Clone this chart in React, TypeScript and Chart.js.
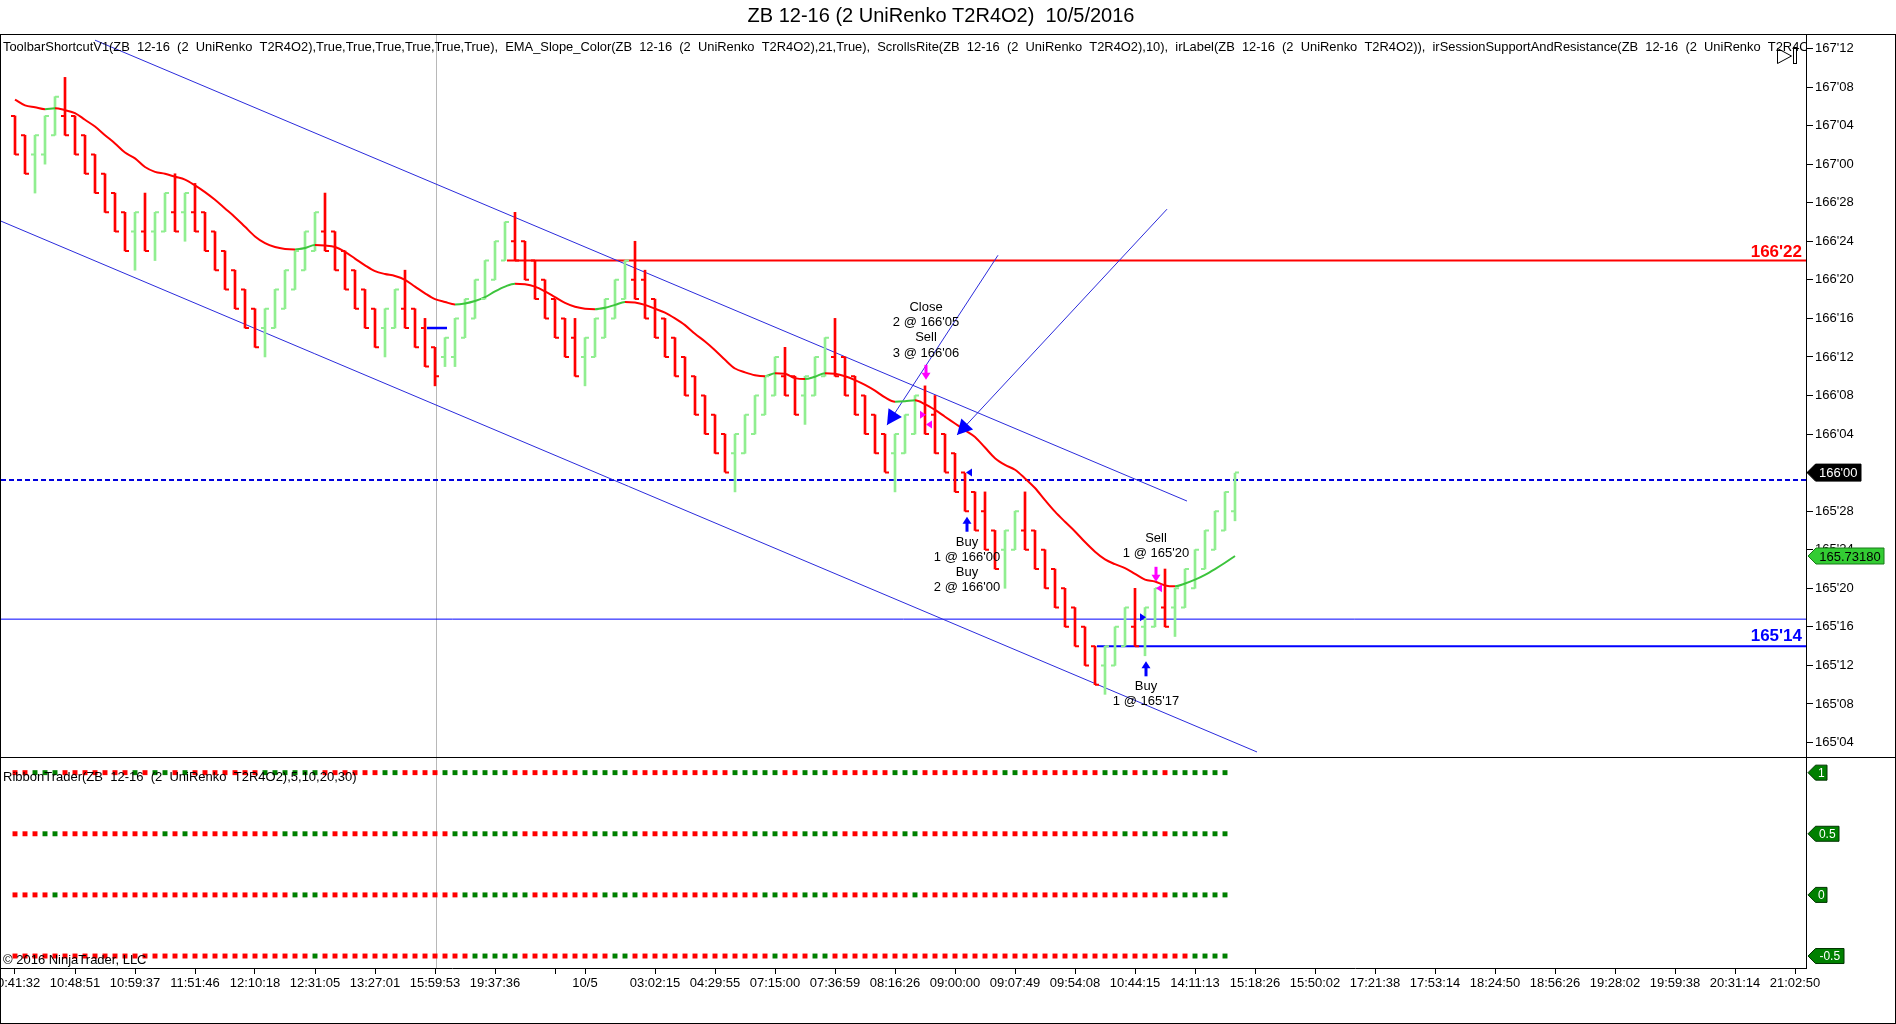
import React, { useEffect, useRef } from "react";
import { Chart, registerables } from "chart.js";

Chart.register(...registerables);

const FONT = "'Liberation Sans', Arial, Helvetica, sans-serif";

const TITLE = "ZB 12-16 (2 UniRenko T2R4O2)  10/5/2016";
const PANEL_LABEL =
  "ToolbarShortcutV1(ZB  12-16  (2  UniRenko  T2R4O2),True,True,True,True,True,True),  EMA_Slope_Color(ZB  12-16  (2  UniRenko  T2R4O2),21,True),  ScrollsRite(ZB  12-16  (2  UniRenko  T2R4O2),10),  irLabel(ZB  12-16  (2  UniRenko  T2R4O2)),  irSessionSupportAndResistance(ZB  12-16  (2  UniRenko  T2R4O2))";
const RIBBON_LABEL = "RibbonTrader(ZB  12-16  (2  UniRenko  T2R4O2),5,10,20,30)";
const COPYRIGHT = "\u00A9 2016 NinjaTrader, LLC";

// Prices are stored in 32nds relative to 166'00
const BASE_32NDS = 166 * 32;

const OPEN = [
  37, 35, 33, 33, 35, 37, 37, 35, 33, 31,
  29, 27, 25, 25, 25, 25, 27, 27, 27, 27,
  25, 23, 21, 19, 17, 15, 15, 17, 19, 21,
  23, 25, 25, 23, 21, 19, 17, 15, 15, 17,
  17, 15, 13, 12, 12, 14, 16, 18, 20, 22,
  24, 24, 22, 20, 18, 16, 14, 12, 12, 14,
  16, 18, 20, 20, 18, 16, 14, 12, 10, 8,
  6, 4, 2, 2, 4, 6, 8, 10, 10, 8,
  8, 10, 12, 12, 10, 8, 6, 4, 2, 2,
  4, 6, 6, 4, 2, 0, -2, -4, -6, -8,
  -8, -6, -6, -8, -10, -12, -14, -16, -18, -20,
  -20, -18, -16, -16, -16, -14, -14, -14, -12, -10,
  -8, -6, -4,
];
const HIGH = [
  37, 35, 35, 37, 39, 41, 37, 35, 33, 31,
  29, 27, 27, 29, 27, 29, 31, 29, 30, 27,
  25, 23, 21, 19, 17, 17, 19, 21, 23, 25,
  27, 29, 25, 23, 21, 19, 17, 17, 19, 21,
  17, 16, 13, 14, 16, 18, 20, 22, 24, 26,
  27, 24, 22, 20, 18, 16, 16, 14, 16, 18,
  20, 22, 24, 21, 18, 16, 14, 12, 10, 8,
  6, 4, 4, 6, 8, 10, 12, 13, 10, 10,
  12, 14, 16, 12, 10, 8, 6, 4, 4, 6,
  8, 9, 8, 4, 2, 0, -2, -2, -6, -6,
  -4, -2, -6, -8, -10, -12, -14, -16, -18, -18,
  -16, -14, -12, -14, -12, -10, -12, -10, -8, -6,
  -4, -2, 0,
];
const LOW = [
  33, 31, 29, 32, 35, 35, 33, 31, 29, 27,
  25, 23, 21, 23, 22, 25, 25, 24, 25, 23,
  21, 19, 17, 15, 13, 12, 15, 17, 19, 21,
  23, 23, 21, 19, 17, 15, 13, 12, 15, 15,
  13, 11, 9, 11, 11, 14, 16, 18, 20, 22,
  22, 20, 18, 16, 14, 12, 10, 9, 12, 14,
  16, 18, 18, 16, 14, 12, 10, 8, 6, 4,
  2, 0, -2, 2, 4, 6, 8, 8, 6, 5,
  8, 10, 10, 8, 6, 4, 2, 0, -2, 2,
  4, 4, 2, 0, -2, -4, -6, -8, -10, -12,
  -8, -8, -10, -12, -14, -16, -18, -20, -22, -23,
  -20, -18, -18, -19, -16, -16, -17, -14, -12, -10,
  -8, -6, -5,
];
const CLOSE = [
  33, 31, 35, 37, 39, 35, 33, 31, 29, 27,
  25, 23, 27, 23, 27, 29, 25, 29, 25, 23,
  21, 19, 17, 15, 13, 17, 19, 21, 23, 25,
  27, 23, 21, 19, 17, 15, 13, 17, 19, 15,
  13, 11, 10, 14, 16, 18, 20, 22, 24, 26,
  22, 20, 18, 16, 14, 12, 10, 14, 16, 18,
  20, 22, 18, 16, 14, 12, 10, 8, 6, 4,
  2, 0, 4, 6, 8, 10, 12, 8, 6, 10,
  12, 14, 10, 8, 6, 4, 2, 0, 4, 6,
  8, 4, 2, 0, -2, -4, -6, -8, -10, -6,
  -4, -8, -10, -12, -14, -16, -18, -20, -22, -18,
  -16, -14, -18, -14, -12, -16, -12, -10, -8, -6,
  -4, -2, 0,
];
const EMA21 = [
  38.7, 38.1, 37.9, 37.7, 37.8, 37.6, 37.3, 36.6, 35.9, 35.0,
  34.15, 33.2, 32.6, 31.7, 31.2, 31.0, 30.7, 30.4, 29.8, 29.1,
  28.3, 27.4, 26.5, 25.5, 24.5, 23.8, 23.4, 23.2, 23.15, 23.3,
  23.6, 23.55, 23.4, 22.9, 22.2, 21.5, 20.9, 20.6, 20.4, 20.0,
  19.3, 18.6, 18.0, 17.7, 17.45, 17.55, 17.8, 18.2, 18.8, 19.3,
  19.6, 19.55, 19.3, 18.8, 18.2, 17.6, 17.2, 17.0, 16.95, 17.1,
  17.4, 17.7, 17.65, 17.4, 17.0, 16.6, 16.0, 15.3, 14.4, 13.6,
  12.7, 11.7, 10.8, 10.4, 10.1, 10.0, 10.3, 10.25, 9.8, 9.7,
  9.95, 10.3, 10.25, 10.0, 9.6, 9.1, 8.5, 7.8, 7.35, 7.4,
  7.5, 7.1, 6.5, 5.8, 5.1, 4.4, 3.7, 2.6, 1.5, 0.8,
  0.3, -0.6, -1.6, -2.85, -4.05, -5.1, -6.1, -7.2, -8.2, -9.0,
  -9.5, -9.9, -10.5, -11.1, -11.3, -11.7, -11.8, -11.5, -11.1, -10.6,
  -10.0, -9.35, -8.65,
];
const EMA_LAST_LABEL = "165.73180";

// RibbonTrader rows (G = green, R = red), one per bar
const RIBBON_ROW_1 =
  "RRGGGRRRRR" + "RRGRGGRGRR" + "RRRRRGGGGG" + "GRRRRRRGGR" + "RRRGGGGGGG" + "RRRRRRRGGG" +
  "GGRRRRRRRR" + "RRGGGGGRRG" + "GGRRRRRRGG" + "GRRRRRRRRG" + "GRRRRRRRRG" + "GGRGGRGGGG" + "GG";
const RIBBON_ROW_2 =
  "RRRGGRRRRR" + "RRRRRGRGRR" + "RRRRRRRGGG" + "GGRRRRRRGR" + "RRRRGGGGGG" + "GRRRRRRRGG" +
  "GGGRRRRRRR" + "RRRRGGGRRG" + "GGGRRRRRRG" + "GRRRRRRRRR" + "RRRRRRRRRR" + "RGRGGRGGGG" + "GG";
const RIBBON_ROW_3 =
  "RRRRGRRRRR" + "RRRRRRRRRR" + "RRRRRRRRGG" + "GRRRRRRRRR" + "RRRRRGGGGG" + "GGRRRRRRRG" +
  "GGGRRRRRRR" + "RRRRRGGRRG" + "GGRRRRRRRR" + "GRRRRRRRRR" + "RRRRRRRRRR" + "RRRRRRGGGG" + "GG";
const RIBBON_ROW_4 =
  "RRRRRRRRRR" + "RRRRRRRRRR" + "RRRRRRRRRR" + "GRRRRRRRRR" + "RRRRRRGGGG" + "GRRRRRRRRR" +
  "GGRRRRRRRR" + "RRRRRRGRRR" + "GGRRRRRRRR" + "RRRRRRRRRR" + "RRRRRRRRRR" + "RRRRRRRRGG" + "GG";
const RIBBON_ROWS = [RIBBON_ROW_1, RIBBON_ROW_2, RIBBON_ROW_3, RIBBON_ROW_4];
const RIBBON_LEVELS = [1, 0.5, 0, -0.5];
const RIBBON_TAGS = ["1", "0.5", "0", "-0.5"];

const X_TICK_BARS = [0, 6, 12, 18, 24, 30, 36, 42, 48, 54, 57, 64, 70, 76, 82, 88, 94, 100, 106, 112, 118, 124, 130, 136, 142, 148, 154, 160, 166, 172, 178];
const X_TICK_LABELS = [
  "10:41:32", "10:48:51", "10:59:37", "11:51:46", "12:10:18", "12:31:05", "13:27:01", "15:59:53", "19:37:36", "",
  "10/5", "03:02:15", "04:29:55", "07:15:00", "07:36:59", "08:16:26", "09:00:00", "09:07:49", "09:54:08", "10:44:15",
  "14:11:13", "15:18:26", "15:50:02", "17:21:38", "17:53:14", "18:24:50", "18:56:26", "19:28:02", "19:59:38", "20:31:14", "21:02:50",
];
const Y_TICKS = [-28, -24, -20, -16, -12, -8, -4, 0, 4, 8, 12, 16, 20, 24, 28, 32, 36, 40, 44];

// drawings: [bar index, price in 32nds]
const CHANNEL_UPPER = [[8.0, 44.86], [117.2, -2.95]];
const CHANNEL_LOWER = [[-1.5, 26.13], [124.2, -28.98]];
const ARROW_LINE_1 = [[98.3, 22.55], [87.2, 4.93]];
const ARROW_LINE_2 = [[115.2, 27.33], [94.2, 3.9]];
const RESISTANCE = { from: 49.2, level: 22, label: "166'22" };
const SUPPORT = { from: 108.2, level: -18, label: "165'14" };
const THIN_LEVEL = -15.2;
const DASHED_LEVEL = -0.77;
const LAST_PRICE = 0;
const SESSION_BREAK_BAR = 42.1;
const BLUE_DASH = [[41.2, 15], [43.2, 15]];

const SELL_ARROWS = [[91.1, 10.35], [114.1, -10.6]];
const BUY_ARROWS = [[95.2, -5.3], [113.1, -20.3]];
const EXEC_MARKS = [
  { bar: 90.8, price: 6, dir: "right", color: "#ff00ff" },
  { bar: 91.4, price: 5, dir: "left", color: "#ff00ff" },
  { bar: 95.4, price: 0, dir: "left", color: "#0000ff" },
  { bar: 114.4, price: -12, dir: "left", color: "#ff00ff" },
  { bar: 112.8, price: -15, dir: "right", color: "#0000ff" },
];
const TRADE_TEXTS = [
  { bar: 91.1, price: 17.14, lines: ["Close", "2 @ 166'05", "Sell", "3 @ 166'06"] },
  { bar: 95.2, price: -7.23, lines: ["Buy", "1 @ 166'00", "Buy", "2 @ 166'00"] },
  { bar: 114.1, price: -6.82, lines: ["Sell", "1 @ 165'20"] },
  { bar: 113.1, price: -22.2, lines: ["Buy", "1 @ 165'17"] },
];

const BAR_UP = "#90ee90";
const BAR_DOWN = "#ff0000";
const EMA_UP = "#3cc43c";
const EMA_DOWN = "#ff0000";
const LINE_BLUE = "#2b2bdc";
const RIB_G = "#008000";
const RIB_R = "#ff0000";

const fmt32 = (v: number) => {
  const n = Math.round(BASE_32NDS + v);
  const whole = Math.floor(n / 32);
  const frac = n - whole * 32;
  return `${whole}'${frac < 10 ? "0" : ""}${frac}`;
};

const lineDs = (pts: number[][], color: string, width: number, dash: number[] = []) => ({
  type: "line",
  data: pts.map((p) => ({ x: p[0], y: p[1] })),
  borderColor: color,
  borderWidth: width,
  borderDash: dash,
  pointRadius: 0,
  tension: 0,
  yAxisID: "y",
  xAxisID: "x",
});

function tagLeft(ctx: CanvasRenderingContext2D, xTip: number, yc: number, w: number, h: number, fill: string, stroke: string, text: string, textColor: string, font: string) {
  ctx.save();
  ctx.beginPath();
  ctx.moveTo(xTip, yc);
  ctx.lineTo(xTip + h / 2, yc - h / 2);
  ctx.lineTo(xTip + w, yc - h / 2);
  ctx.lineTo(xTip + w, yc + h / 2);
  ctx.lineTo(xTip + h / 2, yc + h / 2);
  ctx.closePath();
  ctx.fillStyle = fill;
  ctx.fill();
  ctx.strokeStyle = stroke;
  ctx.lineWidth = 1;
  ctx.stroke();
  ctx.fillStyle = textColor;
  ctx.font = font;
  ctx.textAlign = "center";
  ctx.textBaseline = "middle";
  ctx.fillText(text, xTip + h / 2 + (w - h / 2) / 2, yc + 1);
  ctx.restore();
}

const overlayPlugin = {
  id: "overlay",
  beforeDraw(chart: any) {
    const ctx = chart.ctx;
    ctx.save();
    ctx.fillStyle = "#ffffff";
    ctx.fillRect(0, 0, chart.width, chart.height);
    ctx.restore();
  },
  beforeDatasetsDraw(chart: any) {
    const ctx = chart.ctx;
    const a = chart.chartArea;
    const x = Math.round(chart.scales.x.getPixelForValue(SESSION_BREAK_BAR)) + 0.5;
    ctx.save();
    ctx.strokeStyle = "#b8b8b8";
    ctx.lineWidth = 1;
    ctx.beginPath();
    ctx.moveTo(x, a.top);
    ctx.lineTo(x, a.bottom);
    ctx.stroke();
    ctx.restore();
  },
  afterDatasetsDraw(chart: any) {
    const ctx = chart.ctx;
    const sx = (v: number) => chart.scales.x.getPixelForValue(v);
    const sy = (v: number) => chart.scales.y.getPixelForValue(v);
    ctx.save();
    // open / close ticks of the bars
    ctx.lineWidth = 2;
    for (let i = 0; i < OPEN.length; i++) {
      const x = sx(i);
      ctx.strokeStyle = CLOSE[i] >= OPEN[i] ? BAR_UP : BAR_DOWN;
      ctx.beginPath();
      ctx.moveTo(x - 4, sy(OPEN[i]));
      ctx.lineTo(x, sy(OPEN[i]));
      ctx.moveTo(x, sy(CLOSE[i]));
      ctx.lineTo(x + 4, sy(CLOSE[i]));
      ctx.stroke();
    }
    // short blue dash
    ctx.strokeStyle = "#0000ff";
    ctx.lineWidth = 2.5;
    ctx.beginPath();
    ctx.moveTo(sx(BLUE_DASH[0][0]), sy(BLUE_DASH[0][1]));
    ctx.lineTo(sx(BLUE_DASH[1][0]), sy(BLUE_DASH[1][1]));
    ctx.stroke();

    // arrow heads at end of the drawn arrow lines
    for (const ln of [ARROW_LINE_1, ARROW_LINE_2]) {
      const x0 = sx(ln[0][0]), y0 = sy(ln[0][1]);
      const x1 = sx(ln[1][0]), y1 = sy(ln[1][1]);
      const ang = Math.atan2(y1 - y0, x1 - x0);
      const L = 15, W = 8;
      const bx = x1 - L * Math.cos(ang), by = y1 - L * Math.sin(ang);
      ctx.fillStyle = "#0000ff";
      ctx.beginPath();
      ctx.moveTo(x1, y1);
      ctx.lineTo(bx + W * Math.sin(ang), by - W * Math.cos(ang));
      ctx.lineTo(bx - W * Math.sin(ang), by + W * Math.cos(ang));
      ctx.closePath();
      ctx.fill();
    }

    // sell arrows (magenta, pointing down)
    for (const [b, p] of SELL_ARROWS) {
      const x = sx(b), y = sy(p);
      ctx.fillStyle = "#ff00ff";
      ctx.fillRect(x - 1.5, y - 8, 3, 9);
      ctx.beginPath();
      ctx.moveTo(x - 4.5, y);
      ctx.lineTo(x + 4.5, y);
      ctx.lineTo(x, y + 7);
      ctx.closePath();
      ctx.fill();
    }
    // buy arrows (blue, pointing up)
    for (const [b, p] of BUY_ARROWS) {
      const x = sx(b), y = sy(p);
      ctx.fillStyle = "#0000ff";
      ctx.fillRect(x - 1.5, y - 1, 3, 9);
      ctx.beginPath();
      ctx.moveTo(x - 4.5, y);
      ctx.lineTo(x + 4.5, y);
      ctx.lineTo(x, y - 7);
      ctx.closePath();
      ctx.fill();
    }
    // execution markers
    for (const m of EXEC_MARKS) {
      const x = sx(m.bar), y = sy(m.price);
      ctx.fillStyle = m.color;
      ctx.beginPath();
      if (m.dir === "left") {
        ctx.moveTo(x - 3, y);
        ctx.lineTo(x + 3, y - 4);
        ctx.lineTo(x + 3, y + 4);
      } else {
        ctx.moveTo(x + 3, y);
        ctx.lineTo(x - 3, y - 4);
        ctx.lineTo(x - 3, y + 4);
      }
      ctx.closePath();
      ctx.fill();
    }
    // trade texts
    ctx.fillStyle = "#000000";
    ctx.font = `13px ${FONT}`;
    ctx.textAlign = "center";
    ctx.textBaseline = "middle";
    for (const t of TRADE_TEXTS) {
      const x = sx(t.bar), y = sy(t.price);
      t.lines.forEach((s, k) => ctx.fillText(s, x, y + k * 15.2));
    }

    // level labels
    const a = chart.chartArea;
    ctx.font = `bold 17px ${FONT}`;
    ctx.textAlign = "right";
    ctx.textBaseline = "alphabetic";
    ctx.fillStyle = "#ff0000";
    ctx.fillText(RESISTANCE.label, a.right - 4, sy(RESISTANCE.level) - 4);
    ctx.fillStyle = "#0000ff";
    ctx.fillText(SUPPORT.label, a.right - 4, sy(SUPPORT.level) - 5);
    ctx.restore();
  },
  afterDraw(chart: any) {
    const ctx = chart.ctx;
    const a = chart.chartArea;
    const W = chart.width, H = chart.height;
    const sepY = Math.round(chart.scales.y.bottom) + 0.5;
    ctx.save();
    // frame
    ctx.strokeStyle = "#000000";
    ctx.lineWidth = 1;
    ctx.beginPath();
    ctx.moveTo(0, 34.5); ctx.lineTo(W, 34.5);
    ctx.moveTo(0.5, 34); ctx.lineTo(0.5, H);
    ctx.moveTo(W - 0.5, 34); ctx.lineTo(W - 0.5, H);
    ctx.moveTo(0, H - 0.5); ctx.lineTo(W, H - 0.5);
    ctx.moveTo(0, sepY); ctx.lineTo(W, sepY);
    ctx.stroke();

    // title
    ctx.fillStyle = "#000000";
    ctx.font = `20px ${FONT}`;
    ctx.textAlign = "center";
    ctx.textBaseline = "middle";
    ctx.fillText(TITLE, 941, 16);

    // indicator labels
    ctx.save();
    ctx.beginPath();
    ctx.rect(a.left, a.top, a.right - a.left, a.bottom - a.top);
    ctx.clip();
    ctx.font = `12.9px ${FONT}`;
    ctx.textAlign = "left";
    ctx.fillText(PANEL_LABEL, 3, 47);
    ctx.font = `13px ${FONT}`;
    ctx.fillText(RIBBON_LABEL, 3, 777);
    ctx.fillText(COPYRIGHT, 3, 960);
    ctx.restore();

    // icon top right
    ctx.strokeStyle = "#000000";
    ctx.lineWidth = 1;
    ctx.beginPath();
    ctx.moveTo(1777.5, 48.5);
    ctx.lineTo(1791.5, 56);
    ctx.lineTo(1777.5, 63.5);
    ctx.closePath();
    ctx.stroke();
    ctx.strokeRect(1793.5, 47.5, 3, 16);

    // right axis tags
    const sy = (v: number) => chart.scales.y.getPixelForValue(v);
    const sy2 = (v: number) => chart.scales.y2.getPixelForValue(v);
    tagLeft(ctx, a.right + 1, sy(LAST_PRICE), 54, 17, "#000000", "#000000", fmt32(LAST_PRICE), "#ffffff", `13px ${FONT}`);
    tagLeft(ctx, a.right + 2, sy(EMA21[EMA21.length - 1]), 76, 16, "#33cc33", "#1a7a1a", EMA_LAST_LABEL, "#000000", `13px ${FONT}`);
    const tagW = [19, 31, 19, 36];
    RIBBON_LEVELS.forEach((v, k) => {
      tagLeft(ctx, a.right + 2, sy2(v), tagW[k], 15, "#008000", "#003300", RIBBON_TAGS[k], "#ffffff", `12px ${FONT}`);
    });
    ctx.restore();
  },
};

export default function App() {
  const ref = useRef<HTMLCanvasElement>(null);
  useEffect(() => {
    document.body.style.margin = "0";
    document.body.style.overflow = "hidden";
    const canvas = ref.current;
    if (!canvas) return;

    const datasets: any[] = [];
    datasets.push({
      type: "line",
      data: EMA21.map((v, i) => ({ x: i, y: v })),
      borderColor: EMA_DOWN,
      borderWidth: 2,
      pointRadius: 0,
      cubicInterpolationMode: "monotone",
      segment: {
        borderColor: (c: any) => (c.p1.parsed.y >= c.p0.parsed.y ? EMA_UP : EMA_DOWN),
      },
      yAxisID: "y",
      xAxisID: "x",
    });
    datasets.push({
      type: "bar",
      data: OPEN.map((_, i) => ({ x: i, y: [LOW[i], HIGH[i]] })),
      backgroundColor: OPEN.map((o, i) => (CLOSE[i] >= o ? BAR_UP : BAR_DOWN)),
      borderWidth: 0,
      barThickness: 2,
      grouped: false,
      yAxisID: "y",
      xAxisID: "x",
    });
    datasets.push(lineDs(CHANNEL_UPPER, LINE_BLUE, 1));
    datasets.push(lineDs(CHANNEL_LOWER, LINE_BLUE, 1));
    datasets.push(lineDs(ARROW_LINE_1, LINE_BLUE, 1));
    datasets.push(lineDs(ARROW_LINE_2, LINE_BLUE, 1));
    datasets.push(lineDs([[RESISTANCE.from, RESISTANCE.level], [179.1, RESISTANCE.level]], "#ff0000", 2));
    datasets.push(lineDs([[SUPPORT.from, SUPPORT.level], [179.1, SUPPORT.level]], "#0000ff", 2));
    datasets.push(lineDs([[-1.4, THIN_LEVEL], [179.1, THIN_LEVEL]], "#0000ff", 1));
    datasets.push(lineDs([[-1.4, DASHED_LEVEL], [179.1, DASHED_LEVEL]], "#0000dd", 2, [5, 3]));
    RIBBON_ROWS.forEach((row, k) => {
      const chars = row.split("");
      datasets.push({
        type: "line",
        data: chars.map((_, i) => ({ x: i, y: RIBBON_LEVELS[k] })),
        showLine: false,
        pointStyle: "rect",
        pointRadius: 3.5,
        pointBorderWidth: 0,
        pointBackgroundColor: chars.map((c) => (c === "G" ? RIB_G : RIB_R)),
        pointBorderColor: chars.map((c) => (c === "G" ? RIB_G : RIB_R)),
        yAxisID: "y2",
        xAxisID: "x",
      });
    });

    const chart = new Chart(canvas, {
      type: "bar",
      data: { datasets },
      options: {
        responsive: false,
        animation: false,
        events: [],
        devicePixelRatio: 1,
        layout: { padding: { top: 34, left: 1, right: 1, bottom: 1 }, autoPadding: false },
        plugins: { legend: { display: false }, tooltip: { enabled: false }, title: { display: false } },
        scales: {
          x: {
            type: "linear",
            min: -1.4,
            max: 179.1,
            offset: false,
            afterBuildTicks: (s: any) => {
              s.ticks = X_TICK_BARS.map((v) => ({ value: v }));
            },
            afterFit: (s: any) => {
              s.height = 55;
              s.paddingLeft = 0;
              s.paddingRight = 0;
            },
            ticks: {
              autoSkip: false,
              maxRotation: 0,
              minRotation: 0,
              padding: 2,
              color: "#000000",
              font: { family: FONT, size: 13 },
              callback: (v: any) => {
                const k = X_TICK_BARS.indexOf(Math.round(v));
                return k >= 0 ? X_TICK_LABELS[k] : "";
              },
            },
            grid: { display: true, drawOnChartArea: false, drawTicks: true, tickLength: 6, color: "#000000", offset: false },
            border: { display: true, color: "#000000" },
          },
          y: {
            type: "linear",
            position: "right",
            stack: "panes",
            stackWeight: 723,
            min: -29.5,
            max: 45.5,
            afterBuildTicks: (s: any) => {
              s.ticks = Y_TICKS.map((v) => ({ value: v }));
            },
            afterFit: (s: any) => {
              s.width = 89;
              s.paddingTop = 0;
              s.paddingBottom = 0;
            },
            ticks: {
              padding: 2,
              color: "#000000",
              font: { family: FONT, size: 13 },
              callback: (v: any) => fmt32(Number(v)),
            },
            grid: { display: true, drawOnChartArea: false, drawTicks: true, tickLength: 7, color: "#000000" },
            border: { display: true, color: "#000000" },
          },
          y2: {
            type: "linear",
            position: "right",
            stack: "panes",
            stackWeight: 211,
            min: -0.598,
            max: 1.128,
            afterFit: (s: any) => {
              s.width = 89;
              s.paddingTop = 0;
              s.paddingBottom = 0;
            },
            ticks: { display: false },
            grid: { display: false },
            border: { display: true, color: "#000000" },
          },
        },
      } as any,
      plugins: [overlayPlugin as any],
    } as any);
    return () => chart.destroy();
  }, []);

  return (
    <div style={{ width: 1896, height: 1024, background: "#ffffff" }}>
      <canvas ref={ref} width={1896} height={1024} style={{ display: "block", width: 1896, height: 1024 }} />
    </div>
  );
}
